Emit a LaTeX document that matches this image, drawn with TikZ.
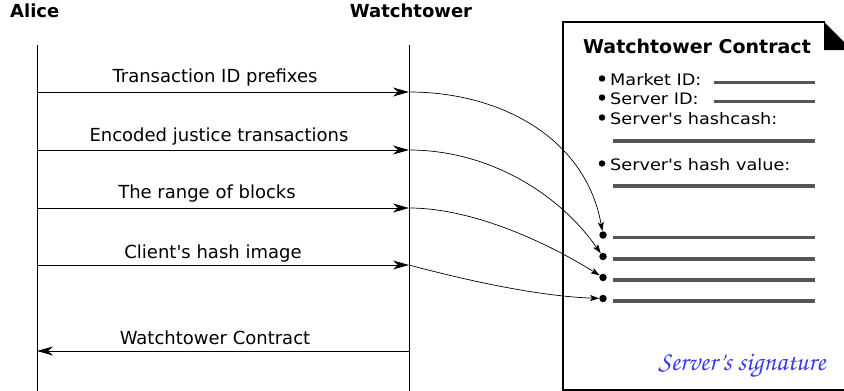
\documentclass[tikz,border=0pt]{standalone}
\usepackage[T1]{fontenc}
\usepackage{fontspec}
\setmainfont{DejaVu Sans}[Ligatures=TeXOff]
\newfontfamily\itemfont{DejaVu Sans}[Ligatures=TeXOff, FakeStretch=1.12]
\usetikzlibrary{arrows.meta}
\definecolor{fieldgray}{HTML}{555555}
\definecolor{sigblue}{HTML}{3A3AF0}
\newcommand{\sigfont}{\fontencoding{T1}\fontfamily{pzc}\fontseries{mb}\fontshape{it}\selectfont}
\tikzset{
  head/.style={font=\bfseries\fontsize{18}{21}\selectfont, inner sep=0pt},
  lifeline/.style={line width=0.8pt},
  msg/.style={line width=0.8pt, -{Stealth[length=16pt,width=9pt,inset=5pt]}},
  msglabel/.style={font=\fontsize{18}{21}\selectfont, inner sep=0pt, anchor=base},
  link/.style={line width=0.7pt, -{Stealth[length=9pt,width=6pt,inset=2pt]}},
  dot/.style={circle, fill=black, inner sep=0pt, minimum size=7.5pt},
  bulletdot/.style={circle, fill=black, inner sep=0pt, minimum size=6.5pt},
  field/.style={line width=3.2pt, fieldgray},
  item/.style={font=\itemfont\fontsize{15.8}{19}\selectfont, inner sep=0pt, anchor=base west},
}
\begin{document}
\begin{tikzpicture}[x=1pt,y=-1pt]
\useasboundingbox (0,0) rectangle (844,391);

% participants
\node[head, anchor=base west] (alice) at (10,17) {Alice};
\node[head, anchor=base] (wt) at (411,17) {Watchtower};
\coordinate (atop) at (37,45);
\coordinate (abot) at (37,391);
\coordinate (wtop) at (409,45);
\coordinate (wbot) at (409,391);
\draw[lifeline] (atop) -- (abot);
\draw[lifeline] (wtop) -- (wbot);

% messages
\foreach \i/\y in {1/92,2/150,3/208,4/265}{
  \coordinate (a\i) at (37,\y);
  \coordinate (w\i) at (409,\y);
}
\coordinate (a5) at (37,351);
\coordinate (w5) at (409,351);
\draw[msg] (a1) -- (w1);
\draw[msg] (a2) -- (w2);
\draw[msg] (a3) -- (w3);
\draw[msg] (a4) -- (w4);
\draw[msg] (w5) -- (a5);
\node[msglabel] (l1) at (215,82) {Transaction ID prefixes};
\node[msglabel] (l2) at (219,141) {Encoded justice transactions};
\node[msglabel] (l3) at (207,198) {The range of blocks};
\node[msglabel] (l4) at (213,258) {Client's hash image};
\node[msglabel] (l5) at (215,344) {Watchtower Contract};

% contract document
\draw[line width=1.8pt] (825,22) -- (563,22) -- (563,390) -- (850,390);
\fill (824,22) -- (852,50) -- (824,50) -- cycle;
\node[font=\bfseries\fontsize{19}{22}\selectfont, inner sep=0pt, anchor=base] (title) at (697,53) {Watchtower Contract};

% listed fields with their bullets
\foreach \i/\y in {1/85,2/104,3/124,4/170}{
  \node[bulletdot] (b\i) at (602,\y-6.5) {};
}
\node[item] (i1) at (610,85) {Market ID:};
\node[item] (i2) at (610,104) {Server ID:};
\node[item] (i3) at (610,124) {Server's hashcash:};
\node[item] (i4) at (610,170) {Server's hash value:};
\draw[field] (714,82.5) -- (815,82.5);
\draw[field] (714,101.5) -- (815,101.5);
\draw[field] (613,141) -- (815,141);
\draw[field] (613,186) -- (815,186);

\foreach \i/\y in {1/235,2/256.5,3/277.5,4/298.5}{
  \node[dot] (d\i) at (603,\y) {};
  \draw[field] (613,\y+2.5) -- (815,\y+2.5);
}

% links from the watchtower into the contract fields
\draw[link] (w1) to[out=0, in=100, looseness=1.0] (d1);
\draw[link] (w2) to[out=0, in=125, looseness=0.9] (d2);
\draw[link] (w3) to[out=0, in=148, looseness=0.8] (d3);
\draw[link] (w4) to[out=-15, in=178, looseness=0.8] (d4);

\node[sigblue, font=\sigfont\fontsize{27}{30}\selectfont, inner sep=0pt, anchor=base] (sig) at (742,370) {Server's signature};
\end{tikzpicture}
\end{document}
